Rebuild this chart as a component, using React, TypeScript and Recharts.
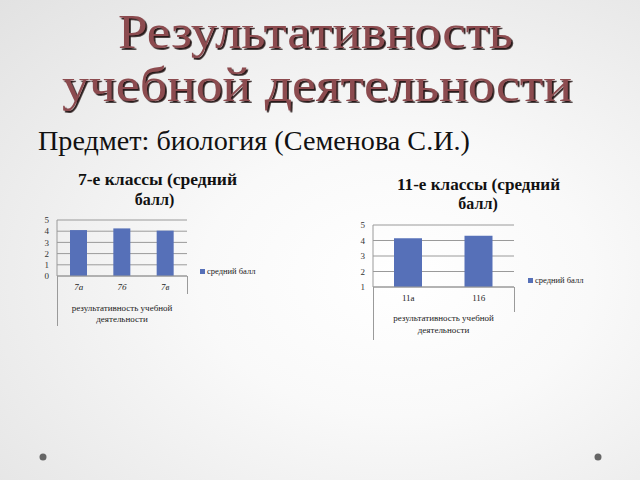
import { BarChart, Bar, XAxis, YAxis, CartesianGrid, Legend } from "recharts"

const SERIES_NAME = "средний балл"
const AXIS_TITLE = ["результативность учебной", "деятельности"]

const grade7Classes = ["7а", "7б", "7в"]
const grade7Scores = [4.1, 4.25, 4.05]
const grade7Ticks = [0, 1, 2, 3, 4, 5]

const grade11Classes = ["11а", "11б"]
const grade11Scores = [4.15, 4.3]
const grade11Ticks = [1, 2, 3, 4, 5]

const BAR_COLOR = "#5670b8"
const GRID_COLOR = "#9a9a9a"
const SERIF = "'Liberation Serif', 'DejaVu Serif', serif"

const toRows = (classes: string[], scores: number[]) =>
  classes.map((name, i) => ({ name, score: scores[i] }))

// legend drawn by hand so it does not eat into the plot area
const SideLegend = ({ payload }: any) => (
  <div style={{ fontFamily: SERIF, fontSize: 8.5, lineHeight: "10px", color: "#222", whiteSpace: "nowrap" }}>
    {(payload || []).map((item: any) => (
      <span key={item.value}>
        <span style={{ display: "inline-block", width: 5, height: 5, background: item.color, marginRight: 2, verticalAlign: "middle" }} />
        <span style={{ verticalAlign: "middle" }}>{item.value}</span>
      </span>
    ))}
  </div>
)

function ClassChart({ classes, scores, ticks, left, top, width, height, margin, barSize, italic, legendAt, titleY }: any) {
  const data = toRows(classes, scores)
  return (
    <div style={{ position: "absolute", left, top, width, height }}>
      <BarChart width={width} height={height} data={data} margin={margin}>
        <CartesianGrid vertical={false} stroke={GRID_COLOR} />
        <XAxis
          dataKey="name"
          height={50}
          stroke={GRID_COLOR}
          tickLine={false}
          tickSize={0}
          tickMargin={8}
          tick={{ fontSize: 9, fill: "#222", fontFamily: SERIF, fontStyle: italic ? "italic" : "normal" }}
          label={{
            content: (p: any) => {
              const vb = p.viewBox || {}
              const cx = vb.x + vb.width / 2
              return (
                <text textAnchor="middle" fontSize={9} fill="#222" fontFamily={SERIF}>
                  <tspan x={cx} y={vb.y + titleY[0]}>{AXIS_TITLE[0]}</tspan>
                  <tspan x={cx} y={vb.y + titleY[1]}>{AXIS_TITLE[1]}</tspan>
                </text>
              )
            },
          }}
        />
        <YAxis
          width={12}
          domain={[ticks[0], ticks[ticks.length - 1]]}
          ticks={ticks}
          interval={0}
          stroke={GRID_COLOR}
          tickLine={false}
          tickSize={0}
          tickMargin={8}
          tick={{ fontSize: 9, fill: "#333", fontFamily: SERIF }}
        />
        <Legend
          layout="horizontal"
          align="center"
          verticalAlign="middle"
          content={<SideLegend />}
          wrapperStyle={{ left: legendAt[0], top: legendAt[1], width: 110, height: 10 }}
        />
        <Bar dataKey="score" name={SERIES_NAME} fill={BAR_COLOR} barSize={barSize} isAnimationActive={false} />
      </BarChart>
    </div>
  )
}

const line = (x: number, y1: number, y2: number) => (
  <div style={{ position: "absolute", left: x, top: y1, width: 1, height: y2 - y1, background: GRID_COLOR }} />
)

export default function App() {
  return (
    <div
      style={{
        position: "absolute",
        left: 0,
        top: 0,
        width: 640,
        height: 480,
        overflow: "hidden",
        background: "radial-gradient(ellipse at 62% 58%, #ffffff 0%, #f9f9f9 35%, #e2e2e2 100%)",
      }}
    >
      <svg width={640} height={480} style={{ position: "absolute", left: 0, top: 0 }}>
        <defs>
          <filter id="shade" x="-5%" y="-20%" width="110%" height="140%">
            <feDropShadow dx={1.8} dy={1.8} stdDeviation={0.6} floodColor="#1e0c0c" floodOpacity={0.95} />
          </filter>
        </defs>
        <g fill="#8c4b4f" fontFamily={SERIF} fontSize={48} filter="url(#shade)">
          <text x={118} y={48} textLength={395} lengthAdjust="spacingAndGlyphs">Результативность</text>
          <text x={62} y={101} textLength={510} lengthAdjust="spacingAndGlyphs">учебной деятельности</text>
        </g>
        <text x={38} y={150} fontFamily={SERIF} fontSize={28} fill="#111" textLength={432} lengthAdjust="spacingAndGlyphs">
          Предмет: биология (Семенова С.И.)
        </text>
        <g fontFamily={SERIF} fontSize={16} fontWeight="bold" fill="#111" textAnchor="middle">
          <text x={157.5} y={185} textLength={159} lengthAdjust="spacingAndGlyphs">7-е классы (средний</text>
          <text x={154.5} y={205}>балл)</text>
          <text x={478.5} y={190} textLength={163} lengthAdjust="spacingAndGlyphs">11-е классы (средний</text>
          <text x={478} y={209}>балл)</text>
        </g>
        <circle cx={43} cy={457} r={3.5} fill="#666" />
        <circle cx={598} cy={457} r={3.5} fill="#666" />
      </svg>

      <ClassChart
        classes={grade7Classes}
        scores={grade7Scores}
        ticks={grade7Ticks}
        left={20}
        top={210}
        width={250}
        height={120}
        margin={{ top: 10, right: 83, bottom: 4, left: 25 }}
        barSize={17}
        italic
        legendAt={[180, 55]}
        titleY={[35, 46]}
      />
      {line(57, 276, 326)}
      {line(187, 276, 294)}

      <ClassChart
        classes={grade11Classes}
        scores={grade11Scores}
        ticks={grade11Ticks}
        left={330}
        top={215}
        width={280}
        height={125}
        margin={{ top: 10, right: 96, bottom: 3, left: 31 }}
        barSize={28}
        legendAt={[198, 59]}
        titleY={[34, 46]}
      />
      {line(373, 287, 340)}
      {line(514, 287, 312)}
    </div>
  )
}
